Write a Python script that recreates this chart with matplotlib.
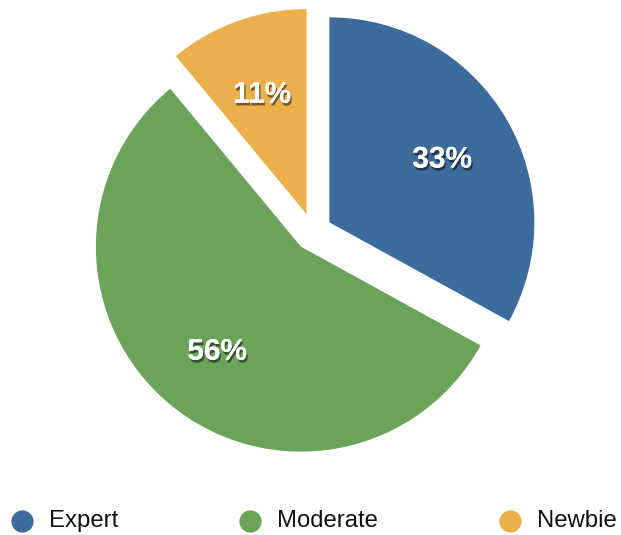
import matplotlib.pyplot as plt
import matplotlib.patheffects as pe

labels = ["Expert", "Moderate", "Newbie"]
values = [33, 56, 11]
colors = ["#3d6b9c", "#6ca35a", "#ecaf4c"]

fig = plt.figure(figsize=(6.21, 5.35), dpi=100)
ax = fig.add_axes([0, 0, 1, 1])

# pie in pixel coordinates (y up); explode is in data units here
wedges, texts, autotexts = ax.pie(
    values, colors=colors, startangle=90, counterclock=False,
    center=(313, 535 - 232), radius=205, explode=[19] * 3,
    autopct="%d%%", pctdistance=0.64, frame=True,
    wedgeprops=dict(linewidth=0),
    textprops=dict(color="white", fontsize=21.5, fontweight="bold",
                   family="Liberation Sans"))
for t in autotexts:
    px, py = t.get_position()
    t.set_position((px, py - 4))
    t.set_path_effects([pe.withSimplePatchShadow(offset=(1, -2), shadow_rgbFace="black", alpha=0.5),
                        pe.Normal()])
ax.set_xlim(0, 621)
ax.set_ylim(0, 535)
ax.axis("off")

# legend along the bottom
legend_x = [22, 250, 510]
for x, lab, c in zip(legend_x, labels, colors):
    ax.plot(x, 535 - 521, "o", ms=16, color=c, mec="none")
    ax.text(x + 27, 535 - 521, lab, fontsize=17.2, va="center", ha="left",
            family="Liberation Sans", color="#111111")

fig.savefig("out.png", dpi=100)
